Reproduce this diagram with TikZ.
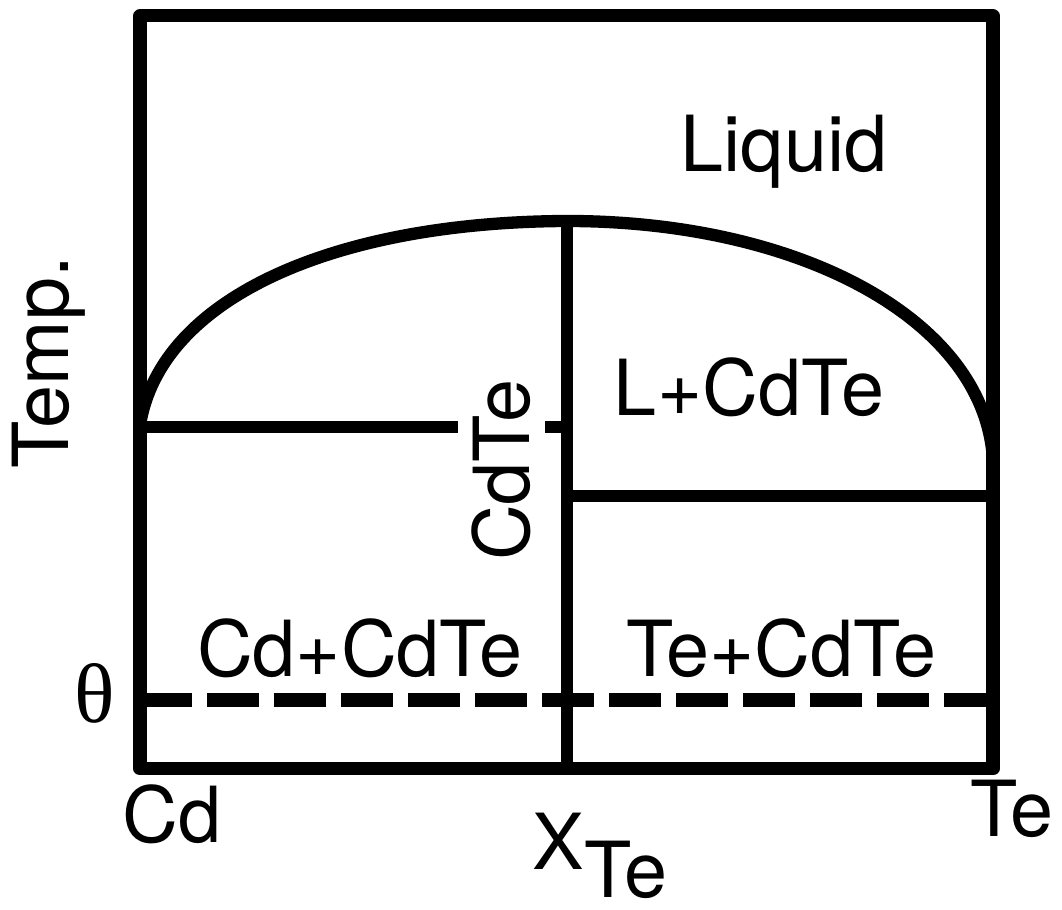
\documentclass[tikz,border=0pt]{standalone}
\usepackage{fontspec}
\setmainfont{TeX Gyre Heros}
\newfontfamily\greekfont{Liberation Serif}
\usepackage{tikz}

\begin{document}
\begin{tikzpicture}[x=0.01cm, y=-0.01cm,
        phaseline/.style={line width=3.5pt},
        label/.style={font=\fontsize{22}{26}\selectfont, anchor=base, inner sep=0pt}]
        \useasboundingbox (0,0) rectangle (1062,910);

        % Corners
        \coordinate (cd) at (140,769);
        \coordinate (te) at (993,769);
        \coordinate (top) at (567,221);
        \coordinate (lcd) at (140,425);
        \coordinate (lte) at (993,460);

        % Frame
        \draw[line width=3.7pt, line join=round] (cd) rectangle (993,16);

        % Liquidus and compound line
        \draw[phaseline] (lcd) .. controls (160,300) and (330,222) .. (top)
            .. controls (800,221) and (985,320) .. (lte);
        \draw[phaseline] (top) -- (cd -| top);

        % Eutectic lines
        \draw[line width=3.2pt] (140,427) -- (567,427);
        \draw[line width=3.2pt] (567,496) -- (993,496);
        \draw[line width=3.8pt, dash pattern=on 0.52cm off 0.15cm] (140,700) -- (993,700);

        % Nodes
        \node[label] (liquid) at (784,172) {Liquid};
        \node[label] (lcdte) at (749,416) {L+CdTe};
        \node[label] (cdcdte) at (360,677) {Cd+CdTe};
        \node[label] (tecdte) at (781,677) {Te+CdTe};
        \node[label, rotate=90, fill=white, inner sep=0.14cm] (cdte) at (530,470) {CdTe};
        \node[label, rotate=90] (temp) at (68,362) {Temp.};
        \node[font=\fontsize{24}{28}\selectfont\greekfont] (theta) at (95,693) {θ};
        \node[label] (cdlab) at (172,843) {Cd};
        \node[label] (telab) at (1012,837) {Te};
        \node[label] (xte) at (600,870) {X\raisebox{-0.27cm}{Te}};
    \end{tikzpicture}
\end{document}
